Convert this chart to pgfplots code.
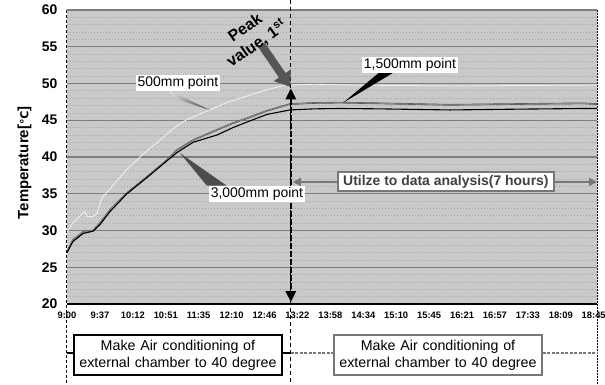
\documentclass[border=0pt]{standalone}
\usepackage{pgfplots}
\pgfplotsset{compat=1.18}
\usepackage{pgfplotstable}
\usepackage{fontspec}
\setmainfont{Liberation Sans}
\newfontfamily\djv{DejaVu Sans}
\usetikzlibrary{arrows.meta}
\definecolor{bggray}{HTML}{C9C9C9}
\definecolor{majgray}{HTML}{7E7E7E}
\definecolor{mingray}{HTML}{A4A4A4}
\definecolor{dgray}{HTML}{555555}
\definecolor{bxgray}{HTML}{777777}
\definecolor{midline}{HTML}{8A8A8A}

\pgfplotstableread{
x y
0 29.8
0.18 31.0
0.40 32.0
0.55 32.6
0.61 31.9
0.79 31.9
0.92 32.4
1.00 33.7
1.09 34.6
1.30 35.6
1.46 36.5
1.82 38.3
2.22 40.0
2.50 41.1
2.83 42.3
3.15 43.6
3.52 44.8
3.90 45.6
4.34 46.4
4.90 47.5
5.41 48.2
5.95 49.0
6.47 49.6
6.77 49.8
7.50 49.9
8.60 49.8
9.60 49.75
10.72 49.7
11.90 49.65
13.15 49.7
14.50 49.75
16.10 49.8
}\pFiveHundred

\pgfplotstableread{
x y
0 27.1
0.18 28.7
0.49 29.8
0.79 30.0
1.00 31.0
1.31 32.8
1.82 35.1
2.43 37.3
3.04 39.6
3.34 40.95
3.83 42.3
4.56 43.7
5.04 44.6
5.55 45.4
6.08 46.3
6.77 47.2
7.50 47.35
8.29 47.4
9.50 47.3
11.63 47.1
13.50 47.2
15.67 47.3
16.10 47.2
}\pFifteenHundred

\pgfplotstableread{
x y
0 27.0
0.18 28.5
0.49 29.6
0.79 29.9
1.00 30.8
1.31 32.6
1.82 35.0
2.43 37.2
3.04 39.5
3.34 40.6
3.83 42.0
4.56 43.0
5.04 44.0
5.55 44.9
6.08 45.8
6.77 46.4
7.50 46.55
8.29 46.6
9.50 46.55
11.63 46.4
13.50 46.5
15.67 46.6
16.10 46.6
}\pThreeThousand

\begin{document}
\begin{tikzpicture}
\useasboundingbox (-67bp,-81bp) rectangle (538bp,304bp);
\begin{axis}[
  at={(0,0)}, anchor=south west,
  scale only axis, width=530bp, height=294bp,
  xmin=0, xmax=16.1, ymin=20, ymax=60,
  xtick={0,...,16},
  xticklabels={9:00,9:37,10:12,10:51,11:35,12:10,12:46,13:22,13:58,14:34,15:10,15:45,16:21,16:57,17:33,18:09,18:45},
  ytick={20,25,...,60},
  minor y tick num=4,
  ymajorgrids, yminorgrids,
  major grid style={majgray, line width=1.3bp},
  minor grid style={mingray, line width=0.8bp, dash pattern=on 1.5bp off 1.5bp},
  axis line style={draw=none},
  tick style={draw=none},
  axis background/.style={fill=bggray},
  clip=false,
  /pgf/number format/assume math mode=true,
  yticklabel style={font=\fontsize{14}{16}\selectfont\bfseries, xshift=-6bp},
  xticklabel style={font=\fontsize{9.4}{10}\selectfont\bfseries, text height=7bp, text depth=0bp, anchor=north, yshift=-4bp},
  ylabel={Temperature[{\djv\fontsize{11}{12}\selectfont ℃}]},
  ylabel style={font=\fontsize{15}{17}\selectfont\bfseries, at={(axis description cs:-0.080,0.48)}, anchor=center},
]
% frame
\draw[majgray, line width=1.3bp] (axis cs:0,60) -- (axis cs:16.1,60);
\draw[black, line width=1bp, dash pattern=on 3bp off 2bp] (axis cs:0,60) -- (axis cs:0,8.98);
\draw[black, line width=1bp, dash pattern=on 1.5bp off 1.5bp] (axis cs:16.1,60) -- (axis cs:16.1,8.98);

\addplot[draw=white!94!black, line width=0.9bp] table[x=x,y=y] {\pFiveHundred};
\addplot[draw=black!70, line width=1.6bp] table[x=x,y=y] {\pFifteenHundred};
\addplot[draw=midline, line width=0.8bp] table[x=x,y=y] {\pFifteenHundred};
\addplot[draw=black, line width=1.1bp] table[x=x,y=y] {\pThreeThousand};

\draw[black, line width=2.2bp] (axis cs:0,20) -- (axis cs:16.1,20);

% middle dashed line
\draw[black, line width=1.1bp, dash pattern=on 4bp off 3bp] (axis cs:6.80,61.36) -- (axis cs:6.80,8.98);
% vertical double arrow
\draw[black, line width=2.6bp, dash pattern=on 6bp off 2bp, {Triangle[length=11bp,width=10bp]}-{Triangle[length=11bp,width=10bp]}] (axis cs:6.80,49.35) -- (axis cs:6.80,20.25);

% peak arrow
\draw[dgray, line width=8bp, -{Triangle[length=14bp,width=20bp]}] (axis cs:5.90,55.3) -- (axis cs:6.78,49.55);
\node[rotate=35, align=center, inner sep=0pt, font=\fontsize{16}{20}\selectfont\bfseries] at (axis cs:5.60,56.45) {Peak\\value, 1\textsuperscript{st}};

% 500mm callout
\shade[left color=white!80!gray, right color=black!75] (axis cs:3.07,49.12) -- (axis cs:3.31,47.89) -- (axis cs:4.34,46.39) -- cycle;
\node[fill=white, inner sep=1.5bp, font=\fontsize{14}{16}\selectfont] at (axis cs:3.37,50.07) {500mm point};

% 1,500mm callout
\fill[black] (axis cs:9.51,51.6) -- (axis cs:9.96,51.6) -- (axis cs:8.38,47.35) -- cycle;
\node[fill=white, inner sep=1.5bp, font=\fontsize{14}{16}\selectfont] at (axis cs:10.42,52.52) {1,500mm point};

% 3,000mm callout
\fill[black!70] (axis cs:3.43,40.54) -- (axis cs:4.25,36.1) -- (axis cs:4.85,36.1) -- cycle;
\node[fill=white, inner sep=1.5bp, font=\fontsize{14}{16}\selectfont] at (axis cs:5.77,35.03) {3,000mm point};

% analysis arrow
\draw[bxgray, line width=2bp, {Triangle[length=8bp,width=8bp]}-{Triangle[length=8bp,width=8bp]}] (axis cs:6.86,36.6) -- (axis cs:16.1,36.6);
\node[fill=white, draw=bxgray, line width=2bp, inner xsep=5bp, inner ysep=3bp, text=black!75, font=\fontsize{14}{16}\selectfont\bfseries] at (axis cs:11.51,36.6) {Utilze to data analysis(7 hours)};

% bottom boxes
\draw[black, line width=1.5bp] (axis cs:0,13.33) -- (axis cs:6.80,13.33);
\draw[bxgray, line width=1.2bp, dash pattern=on 3bp off 1.5bp] (axis cs:6.80,13.33) -- (axis cs:16.1,13.33);
\node[fill=white, draw=black, line width=1.8bp, align=center, text width=198bp, minimum height=40bp, inner xsep=5bp, inner ysep=2bp, font=\fontsize{14.3}{17}\selectfont] at (axis cs:3.37,13.06) {Make Air conditioning of\\external chamber to 40 degree};
\node[fill=white, draw=bxgray, line width=1.8bp, align=center, text width=198bp, minimum height=40bp, inner xsep=5bp, inner ysep=2bp, font=\fontsize{14.3}{17}\selectfont] at (axis cs:11.27,13.06) {Make Air conditioning of\\external chamber to 40 degree};
\end{axis}
\end{tikzpicture}
\end{document}
